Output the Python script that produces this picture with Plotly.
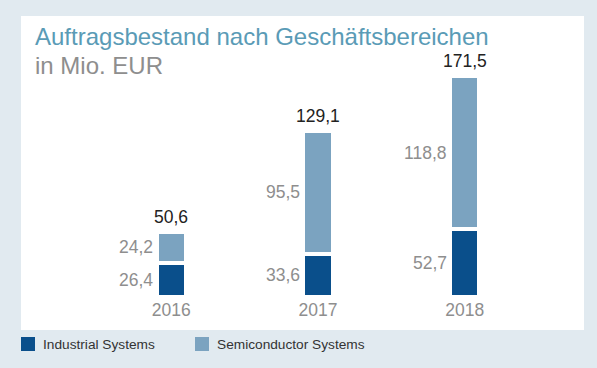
import plotly.graph_objects as go

# ---- data ----
years = ["2016", "2017", "2018"]
industrial = [26.4, 33.6, 52.7]
semiconductor = [24.2, 95.5, 118.8]
totals = [50.6, 129.1, 171.5]
series_names = ["Industrial Systems", "Semiconductor Systems"]

title_line1 = "Auftragsbestand nach Geschäftsbereichen"
title_line2 = "in Mio. EUR"

def fmt(v):
    return f"{v:.1f}".replace(".", ",")

# ---- style ----
W, H = 597, 368
ML, MR, MT, MB = 98, 59, 76, 71
PW, PH = W - ML - MR, H - MT - MB
C_IND = "#0a4f8b"
C_SEMI = "#7ba3c0"
C_BG = "#e1eaf0"
C_TITLE = "#5a9bb6"
C_GRAY = "#8e8e8e"
C_DARK = "#222222"
FONT = "Liberation Sans"

def px_x(px):
    return (px - ML) / PW

def px_y(py):
    return (H - MB - py) / PH

fig = go.Figure()
fig.add_trace(go.Bar(x=years, y=industrial, name=series_names[0],
                     marker=dict(color=C_IND, line=dict(color="white", width=4)),
                     width=0.198, showlegend=False, hoverinfo="skip"))
fig.add_trace(go.Bar(x=years, y=semiconductor, name=series_names[1],
                     marker=dict(color=C_SEMI, line=dict(color="white", width=4)),
                     width=0.198, showlegend=False, hoverinfo="skip"))

ann = []
for i, y in enumerate(years):
    ann.append(dict(x=i, y=industrial[i] / 2, text=fmt(industrial[i]), xref="x", yref="y",
                    xanchor="right", yanchor="middle", xshift=-16, showarrow=False,
                    font=dict(size=17.5, color=C_GRAY, family=FONT)))
    ann.append(dict(x=i, y=industrial[i] + semiconductor[i] / 2, text=fmt(semiconductor[i]),
                    xref="x", yref="y", xanchor="right", yanchor="middle", xshift=-16,
                    showarrow=False, font=dict(size=17.5, color=C_GRAY, family=FONT)))
    ann.append(dict(x=i, y=totals[i], text=fmt(totals[i]), xref="x", yref="y",
                    xanchor="center", yanchor="bottom", yshift=3, showarrow=False,
                    font=dict(size=17.5, color=C_DARK, family=FONT)))

# titles
ann.append(dict(x=px_x(33), y=px_y(52), xref="paper", yref="paper", text=title_line1,
                xanchor="left", yanchor="bottom", showarrow=False,
                font=dict(size=24, color=C_TITLE, family=FONT)))
ann.append(dict(x=px_x(33), y=px_y(81), xref="paper", yref="paper", text=title_line2,
                xanchor="left", yanchor="bottom", showarrow=False,
                font=dict(size=24, color=C_GRAY, family=FONT)))

shapes = [dict(type="rect", xref="paper", yref="paper", x0=px_x(21), x1=px_x(584),
               y0=px_y(330), y1=px_y(16), fillcolor="white", line=dict(width=0),
               layer="below")]

# manual legend
leg = [(21, C_IND, series_names[0]), (195, C_SEMI, series_names[1])]
for x0, col, name in leg:
    shapes.append(dict(type="rect", xref="paper", yref="paper", x0=px_x(x0), x1=px_x(x0 + 14),
                       y0=px_y(351), y1=px_y(337), fillcolor=col, line=dict(width=0)))
    ann.append(dict(x=px_x(x0 + 20), y=px_y(344), xref="paper", yref="paper", text=name,
                    xanchor="left", yanchor="middle", showarrow=False,
                    font=dict(size=13.7, color="#333333", family=FONT)))

fig.update_layout(
    width=W, height=H, autosize=False,
    margin=dict(l=ML, r=MR, t=MT, b=MB),
    paper_bgcolor=C_BG, plot_bgcolor="white",
    barmode="stack",
    showlegend=False,
    annotations=ann, shapes=shapes,
    xaxis=dict(type="category", range=[-0.5, 2.5], showgrid=False, zeroline=False,
               showline=False, ticks="", tickfont=dict(size=17.5, color=C_GRAY, family=FONT)),
    yaxis=dict(range=[0, 171.5], visible=False, showgrid=False, zeroline=False),
    font=dict(family=FONT),
)
fig.update_traces(cliponaxis=False)

fig.write_html("out.html", config={"displayModeBar": False},
               post_script="document.body.style.margin='0';")
